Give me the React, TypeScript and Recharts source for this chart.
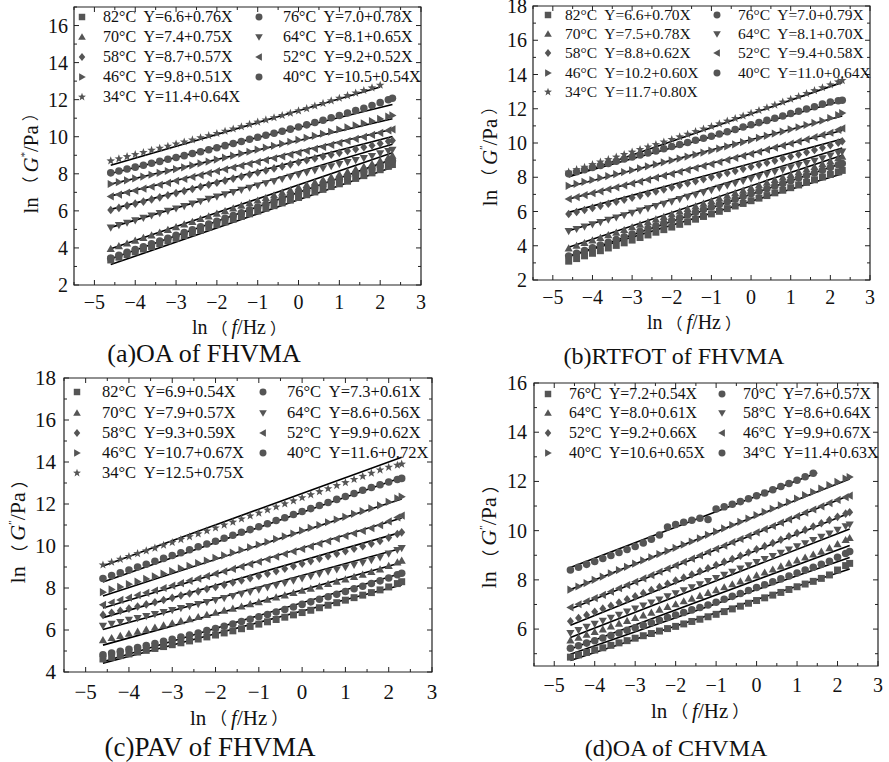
import React from 'react';
import { ScatterChart, Scatter, XAxis, YAxis, ReferenceLine, ReferenceArea } from 'recharts';

const FONT = "'Liberation Serif', 'Times New Roman', serif";
const CJK = "'Noto Sans CJK SC', 'Noto Sans CJK JP', sans-serif";
const MARK = '#555555';

// frequency sweep: ln(f/Hz), 0.01 Hz .. 10 Hz
const lnF = [-4.6, -4.4, -4.2, -4.0, -3.8, -3.6, -3.4, -3.2, -3.0, -2.8, -2.6, -2.4, -2.2, -2.0, -1.8, -1.6, -1.4, -1.2, -1.0, -0.8, -0.6, -0.4, -0.2, 0.0, 0.2, 0.4, 0.6, 0.8, 1.0, 1.2, 1.4, 1.6, 1.8, 2.0, 2.2, 2.3];
const xTicks = [-5.5, -5, -4.5, -4, -3.5, -3, -2.5, -2, -1.5, -1, -0.5, 0, 0.5, 1, 1.5, 2, 2.5, 3];

// ---------- (a) OA of FHVMA ----------
const aTemps = ['82°C', '76°C', '70°C', '64°C', '58°C', '52°C', '46°C', '40°C', '34°C'];
const aEqs = ['Y=6.6+0.76X', 'Y=7.0+0.78X', 'Y=7.4+0.75X', 'Y=8.1+0.65X', 'Y=8.7+0.57X', 'Y=9.2+0.52X', 'Y=9.8+0.51X', 'Y=10.5+0.54X', 'Y=11.4+0.64X'];
const aMarkers = ['square', 'circle', 'triUp', 'triDown', 'diamond', 'triLeft', 'triRight', 'circle', 'star'];
const a82 = [3.35, 3.50, 3.64, 3.79, 3.94, 4.08, 4.23, 4.38, 4.52, 4.67, 4.82, 4.96, 5.11, 5.26, 5.40, 5.55, 5.70, 5.84, 5.99, 6.14, 6.28, 6.43, 6.58, 6.72, 6.87, 7.02, 7.16, 7.31, 7.46, 7.60, 7.75, 7.90, 8.05, 8.22, 8.40, 8.50];
const a76 = [3.45, 3.60, 3.76, 3.91, 4.06, 4.22, 4.37, 4.52, 4.68, 4.83, 4.98, 5.14, 5.29, 5.44, 5.60, 5.75, 5.90, 6.06, 6.21, 6.36, 6.52, 6.67, 6.82, 6.97, 7.11, 7.26, 7.41, 7.55, 7.70, 7.85, 8.00, 8.14, 8.28, 8.44, 8.61, 8.70];
const a70 = [3.95, 4.10, 4.24, 4.39, 4.54, 4.68, 4.83, 4.97, 5.12, 5.27, 5.41, 5.56, 5.70, 5.85, 5.99, 6.13, 6.28, 6.42, 6.56, 6.70, 6.84, 6.98, 7.12, 7.26, 7.40, 7.54, 7.68, 7.82, 7.96, 8.10, 8.24, 8.38, 8.53, 8.70, 8.88, 8.98];
const a64 = [5.10, 5.23, 5.36, 5.49, 5.62, 5.75, 5.88, 6.00, 6.13, 6.26, 6.39, 6.52, 6.65, 6.77, 6.89, 7.01, 7.13, 7.25, 7.37, 7.49, 7.60, 7.72, 7.84, 7.96, 8.08, 8.19, 8.30, 8.41, 8.52, 8.63, 8.74, 8.85, 8.96, 9.10, 9.23, 9.30];
const a58 = [6.05, 6.16, 6.28, 6.39, 6.50, 6.62, 6.73, 6.84, 6.96, 7.07, 7.18, 7.30, 7.41, 7.52, 7.63, 7.74, 7.85, 7.96, 8.07, 8.18, 8.29, 8.40, 8.51, 8.62, 8.73, 8.83, 8.93, 9.03, 9.13, 9.23, 9.33, 9.43, 9.53, 9.64, 9.75, 9.80];
const a52 = [6.78, 6.88, 6.99, 7.09, 7.20, 7.30, 7.41, 7.51, 7.62, 7.72, 7.83, 7.93, 8.04, 8.14, 8.24, 8.34, 8.44, 8.54, 8.64, 8.74, 8.84, 8.94, 9.04, 9.14, 9.24, 9.35, 9.45, 9.56, 9.67, 9.77, 9.88, 9.99, 10.10, 10.21, 10.34, 10.40];
const a46 = [7.45, 7.55, 7.65, 7.75, 7.85, 7.95, 8.05, 8.15, 8.25, 8.35, 8.45, 8.56, 8.66, 8.77, 8.87, 8.98, 9.09, 9.19, 9.30, 9.41, 9.51, 9.62, 9.73, 9.83, 9.94, 10.05, 10.16, 10.27, 10.39, 10.50, 10.61, 10.72, 10.84, 10.96, 11.09, 11.15];
const a40 = [8.05, 8.15, 8.26, 8.36, 8.46, 8.57, 8.67, 8.78, 8.88, 8.98, 9.09, 9.19, 9.30, 9.41, 9.52, 9.63, 9.74, 9.86, 9.97, 10.08, 10.19, 10.30, 10.41, 10.52, 10.64, 10.77, 10.89, 11.02, 11.15, 11.28, 11.41, 11.54, 11.68, 11.84, 12.00, 12.08];
const a34 = [8.70, 8.81, 8.93, 9.04, 9.15, 9.27, 9.38, 9.49, 9.61, 9.72, 9.83, 9.95, 10.06, 10.18, 10.30, 10.42, 10.54, 10.67, 10.79, 10.91, 11.03, 11.15, 11.27, 11.40, 11.52, 11.66, 11.80, 11.94, 12.08, 12.22, 12.36, 12.50, 12.64, 12.78];
const aFitStart = [3.10, 3.41, 3.95, 5.11, 6.08, 6.81, 7.45, 8.02, 8.46];
const aFitEnd = [8.35, 8.79, 9.13, 9.60, 10.01, 10.40, 10.97, 11.74, 12.68];
const aFitEndX = [2.3, 2.3, 2.3, 2.3, 2.3, 2.3, 2.3, 2.3, 2.0];

// ---------- (b) RTFOT of FHVMA ----------
const bTemps = ['82°C', '76°C', '70°C', '64°C', '58°C', '52°C', '46°C', '40°C', '34°C'];
const bEqs = ['Y=6.6+0.70X', 'Y=7.0+0.79X', 'Y=7.5+0.78X', 'Y=8.1+0.70X', 'Y=8.8+0.62X', 'Y=9.4+0.58X', 'Y=10.2+0.60X', 'Y=11.0+0.64X', 'Y=11.7+0.80X'];
const bMarkers = ['square', 'circle', 'triUp', 'triDown', 'diamond', 'triLeft', 'triRight', 'circle', 'star'];
const b82 = [3.10, 3.25, 3.41, 3.56, 3.71, 3.87, 4.02, 4.17, 4.33, 4.48, 4.63, 4.79, 4.94, 5.09, 5.25, 5.40, 5.55, 5.71, 5.86, 6.01, 6.17, 6.32, 6.47, 6.63, 6.78, 6.93, 7.09, 7.24, 7.39, 7.55, 7.70, 7.85, 8.01, 8.16, 8.31, 8.40];
const b76 = [3.40, 3.56, 3.72, 3.88, 4.04, 4.20, 4.36, 4.52, 4.68, 4.84, 5.00, 5.16, 5.32, 5.48, 5.64, 5.80, 5.95, 6.11, 6.26, 6.41, 6.57, 6.72, 6.87, 7.03, 7.18, 7.33, 7.49, 7.64, 7.79, 7.95, 8.10, 8.25, 8.41, 8.57, 8.73, 8.80];
const b70 = [3.85, 4.00, 4.16, 4.31, 4.46, 4.62, 4.77, 4.92, 5.08, 5.23, 5.38, 5.54, 5.69, 5.84, 6.00, 6.15, 6.30, 6.46, 6.61, 6.76, 6.92, 7.07, 7.22, 7.38, 7.53, 7.68, 7.84, 7.99, 8.14, 8.30, 8.45, 8.60, 8.77, 8.93, 9.11, 9.20];
const b64 = [4.85, 4.98, 5.12, 5.25, 5.38, 5.52, 5.65, 5.78, 5.92, 6.05, 6.18, 6.32, 6.45, 6.58, 6.72, 6.85, 6.98, 7.12, 7.25, 7.38, 7.52, 7.65, 7.78, 7.92, 8.05, 8.18, 8.32, 8.45, 8.58, 8.71, 8.83, 8.96, 9.10, 9.26, 9.42, 9.50];
const b58 = [5.85, 5.97, 6.09, 6.21, 6.33, 6.45, 6.57, 6.69, 6.81, 6.93, 7.05, 7.17, 7.29, 7.41, 7.53, 7.65, 7.77, 7.89, 8.01, 8.13, 8.25, 8.37, 8.49, 8.61, 8.73, 8.85, 8.97, 9.09, 9.21, 9.33, 9.46, 9.59, 9.72, 9.87, 10.02, 10.10];
const b52 = [6.73, 6.84, 6.96, 7.07, 7.18, 7.30, 7.41, 7.52, 7.64, 7.75, 7.86, 7.98, 8.09, 8.20, 8.32, 8.43, 8.54, 8.66, 8.77, 8.89, 9.01, 9.13, 9.25, 9.37, 9.49, 9.61, 9.73, 9.85, 9.97, 10.09, 10.21, 10.34, 10.47, 10.60, 10.77, 10.85];
const b46 = [7.50, 7.61, 7.73, 7.84, 7.96, 8.07, 8.18, 8.30, 8.41, 8.52, 8.64, 8.75, 8.87, 8.98, 9.09, 9.21, 9.32, 9.44, 9.55, 9.67, 9.80, 9.92, 10.05, 10.17, 10.30, 10.42, 10.55, 10.67, 10.80, 10.92, 11.05, 11.17, 11.30, 11.46, 11.63, 11.75];
const b40 = [8.20, 8.32, 8.44, 8.57, 8.69, 8.81, 8.93, 9.06, 9.18, 9.30, 9.42, 9.54, 9.67, 9.79, 9.91, 10.03, 10.16, 10.28, 10.40, 10.53, 10.66, 10.79, 10.93, 11.06, 11.19, 11.32, 11.45, 11.58, 11.72, 11.85, 11.98, 12.12, 12.27, 12.40, 12.47, 12.50];
const b34 = [8.30, 8.45, 8.59, 8.74, 8.89, 9.03, 9.18, 9.33, 9.47, 9.62, 9.77, 9.91, 10.06, 10.21, 10.36, 10.51, 10.67, 10.82, 10.97, 11.12, 11.28, 11.43, 11.58, 11.74, 11.90, 12.06, 12.22, 12.39, 12.56, 12.72, 12.89, 13.06, 13.23, 13.40, 13.57, 13.65];
const bFitStart = [3.38, 3.37, 3.91, 4.88, 5.95, 6.73, 7.44, 8.06, 8.02];
const bFitEnd = [8.21, 8.82, 9.29, 9.71, 10.23, 10.73, 11.58, 12.47, 13.54];
const bFitEndX = [2.3, 2.3, 2.3, 2.3, 2.3, 2.3, 2.3, 2.3, 2.3];

// ---------- (c) PAV of FHVMA ----------
const cTemps = ['82°C', '76°C', '70°C', '64°C', '58°C', '52°C', '46°C', '40°C', '34°C'];
const cEqs = ['Y=6.9+0.54X', 'Y=7.3+0.61X', 'Y=7.9+0.57X', 'Y=8.6+0.56X', 'Y=9.3+0.59X', 'Y=9.9+0.62X', 'Y=10.7+0.67X', 'Y=11.6+0.72X', 'Y=12.5+0.75X'];
const cMarkers = ['square', 'circle', 'triUp', 'triDown', 'diamond', 'triLeft', 'triRight', 'circle', 'star'];
const c82 = [4.62, 4.70, 4.78, 4.86, 4.95, 5.03, 5.12, 5.21, 5.30, 5.39, 5.48, 5.57, 5.67, 5.76, 5.86, 5.96, 6.06, 6.17, 6.28, 6.39, 6.50, 6.61, 6.72, 6.83, 6.94, 7.06, 7.18, 7.30, 7.42, 7.54, 7.66, 7.78, 7.91, 8.05, 8.21, 8.30];
const c76 = [4.82, 4.90, 4.99, 5.08, 5.17, 5.26, 5.36, 5.46, 5.56, 5.66, 5.76, 5.86, 5.97, 6.07, 6.18, 6.29, 6.40, 6.51, 6.63, 6.74, 6.86, 6.98, 7.10, 7.22, 7.34, 7.46, 7.58, 7.70, 7.83, 7.96, 8.08, 8.21, 8.34, 8.48, 8.63, 8.70];
const c70 = [5.52, 5.62, 5.72, 5.82, 5.92, 6.02, 6.12, 6.22, 6.32, 6.42, 6.52, 6.62, 6.72, 6.82, 6.92, 7.02, 7.12, 7.23, 7.33, 7.44, 7.55, 7.65, 7.76, 7.87, 7.97, 8.08, 8.19, 8.30, 8.41, 8.53, 8.64, 8.76, 8.89, 9.05, 9.22, 9.30];
const c64 = [6.20, 6.29, 6.38, 6.48, 6.57, 6.66, 6.76, 6.85, 6.95, 7.04, 7.14, 7.23, 7.33, 7.42, 7.52, 7.62, 7.72, 7.82, 7.92, 8.03, 8.13, 8.24, 8.35, 8.46, 8.56, 8.67, 8.78, 8.88, 8.99, 9.10, 9.21, 9.33, 9.46, 9.64, 9.81, 9.90];
const c58 = [6.72, 6.82, 6.92, 7.02, 7.12, 7.22, 7.32, 7.43, 7.53, 7.64, 7.74, 7.84, 7.95, 8.05, 8.15, 8.26, 8.36, 8.47, 8.57, 8.68, 8.80, 8.92, 9.04, 9.16, 9.28, 9.40, 9.51, 9.63, 9.75, 9.87, 9.99, 10.11, 10.24, 10.40, 10.57, 10.65];
const c52 = [7.20, 7.31, 7.43, 7.54, 7.66, 7.77, 7.88, 8.00, 8.11, 8.23, 8.34, 8.45, 8.57, 8.68, 8.79, 8.91, 9.02, 9.14, 9.25, 9.37, 9.49, 9.62, 9.74, 9.86, 9.98, 10.11, 10.23, 10.35, 10.48, 10.60, 10.72, 10.85, 10.99, 11.17, 11.36, 11.45];
const c46 = [7.80, 7.93, 8.05, 8.18, 8.30, 8.43, 8.55, 8.68, 8.80, 8.93, 9.05, 9.18, 9.30, 9.43, 9.55, 9.68, 9.81, 9.93, 10.06, 10.19, 10.33, 10.46, 10.59, 10.73, 10.86, 10.99, 11.13, 11.26, 11.39, 11.53, 11.66, 11.79, 11.93, 12.10, 12.27, 12.35];
const c40 = [8.45, 8.59, 8.72, 8.86, 9.00, 9.13, 9.27, 9.41, 9.55, 9.68, 9.82, 9.96, 10.10, 10.23, 10.37, 10.51, 10.65, 10.78, 10.92, 11.06, 11.21, 11.35, 11.50, 11.64, 11.78, 11.93, 12.07, 12.22, 12.36, 12.50, 12.65, 12.79, 12.92, 13.05, 13.17, 13.22];
const c34 = [9.10, 9.23, 9.37, 9.50, 9.64, 9.77, 9.90, 10.04, 10.17, 10.31, 10.44, 10.58, 10.72, 10.86, 11.00, 11.14, 11.29, 11.43, 11.57, 11.72, 11.86, 12.01, 12.15, 12.30, 12.44, 12.59, 12.73, 12.88, 13.02, 13.17, 13.32, 13.47, 13.62, 13.75, 13.85, 13.90];
const cFitStart = [4.42, 4.49, 5.28, 6.02, 6.59, 7.05, 7.62, 8.29, 9.05];
const cFitEnd = [8.14, 8.70, 9.21, 9.89, 10.66, 11.33, 12.24, 13.26, 14.23];
const cFitEndX = [2.3, 2.3, 2.3, 2.3, 2.3, 2.3, 2.3, 2.3, 2.3];

// ---------- (d) OA of CHVMA ----------
const dTemps = ['76°C', '70°C', '64°C', '58°C', '52°C', '46°C', '40°C', '34°C'];
const dEqs = ['Y=7.2+0.54X', 'Y=7.6+0.57X', 'Y=8.0+0.61X', 'Y=8.6+0.64X', 'Y=9.2+0.66X', 'Y=9.9+0.67X', 'Y=10.6+0.65X', 'Y=11.4+0.63X'];
const dMarkers = ['square', 'circle', 'triUp', 'triDown', 'diamond', 'triLeft', 'triRight', 'circle'];
const d76 = [4.86, 4.95, 5.05, 5.15, 5.24, 5.34, 5.44, 5.53, 5.63, 5.73, 5.82, 5.92, 6.02, 6.11, 6.21, 6.31, 6.40, 6.50, 6.60, 6.71, 6.82, 6.93, 7.05, 7.16, 7.27, 7.38, 7.49, 7.61, 7.72, 7.83, 7.94, 8.06, 8.20, 8.40, 8.58, 8.67];
const d70 = [5.22, 5.32, 5.43, 5.53, 5.64, 5.74, 5.84, 5.95, 6.05, 6.15, 6.26, 6.36, 6.47, 6.57, 6.67, 6.78, 6.88, 6.98, 7.09, 7.21, 7.33, 7.45, 7.57, 7.69, 7.80, 7.92, 8.04, 8.16, 8.28, 8.40, 8.51, 8.63, 8.76, 8.92, 9.07, 9.15];
const d64 = [5.54, 5.65, 5.77, 5.88, 5.99, 6.11, 6.22, 6.33, 6.45, 6.56, 6.67, 6.79, 6.90, 7.01, 7.13, 7.24, 7.35, 7.47, 7.58, 7.70, 7.82, 7.94, 8.06, 8.18, 8.30, 8.42, 8.55, 8.67, 8.79, 8.91, 9.03, 9.15, 9.29, 9.45, 9.62, 9.70];
const d58 = [5.84, 5.96, 6.09, 6.21, 6.34, 6.46, 6.58, 6.71, 6.83, 6.96, 7.08, 7.20, 7.33, 7.45, 7.58, 7.70, 7.82, 7.95, 8.07, 8.20, 8.33, 8.46, 8.59, 8.72, 8.84, 8.97, 9.10, 9.23, 9.36, 9.49, 9.62, 9.75, 9.88, 10.03, 10.18, 10.25];
const d52 = [6.32, 6.45, 6.57, 6.70, 6.83, 6.95, 7.08, 7.21, 7.33, 7.46, 7.59, 7.71, 7.84, 7.97, 8.09, 8.22, 8.35, 8.47, 8.60, 8.73, 8.85, 8.98, 9.11, 9.24, 9.37, 9.50, 9.63, 9.77, 9.90, 10.03, 10.17, 10.30, 10.43, 10.56, 10.69, 10.75];
const d46 = [6.88, 7.01, 7.13, 7.26, 7.39, 7.52, 7.66, 7.79, 7.92, 8.06, 8.19, 8.33, 8.46, 8.59, 8.73, 8.86, 8.99, 9.13, 9.26, 9.39, 9.53, 9.66, 9.79, 9.93, 10.06, 10.19, 10.33, 10.46, 10.59, 10.73, 10.86, 10.99, 11.12, 11.25, 11.36, 11.42];
const d40 = [7.60, 7.73, 7.87, 8.00, 8.13, 8.27, 8.40, 8.53, 8.66, 8.79, 8.92, 9.05, 9.17, 9.30, 9.43, 9.56, 9.69, 9.83, 9.96, 10.09, 10.23, 10.36, 10.49, 10.63, 10.76, 10.89, 11.03, 11.16, 11.30, 11.44, 11.57, 11.71, 11.85, 11.98, 12.12, 12.18];
const d34 = [8.40, 8.51, 8.63, 8.75, 8.87, 8.99, 9.11, 9.23, 9.36, 9.50, 9.65, 9.82, 10.15, 10.25, 10.34, 10.42, 10.50, 10.45, 10.88, 10.97, 11.07, 11.18, 11.30, 11.42, 11.53, 11.66, 11.79, 11.92, 12.05, 12.19, 12.33];
const dFitStart = [4.72, 4.98, 5.19, 5.66, 6.16, 6.82, 7.61, 8.50];
const dFitEnd = [8.44, 8.91, 9.40, 10.07, 10.72, 11.44, 12.10, 12.35];
const dFitEndX = [2.3, 2.3, 2.3, 2.3, 2.3, 2.3, 2.3, 1.5];

const toPts = (ys: number[]) => ys.map((y, i) => ({ x: lnF[i], y }));

function Mk({ type, cx, cy, s = 4.1, fill = MARK }: any) {
  if (cx == null || cy == null) return <g />;
  switch (type) {
    case 'square':
      return <rect x={cx - s * 0.85} y={cy - s * 0.85} width={s * 1.7} height={s * 1.7} fill={fill} />;
    case 'circle':
      return <circle cx={cx} cy={cy} r={s * 0.92} fill={fill} />;
    case 'triUp':
      return <polygon points={`${cx},${cy - s} ${cx + s},${cy + s * 0.75} ${cx - s},${cy + s * 0.75}`} fill={fill} />;
    case 'triDown':
      return <polygon points={`${cx},${cy + s} ${cx + s},${cy - s * 0.75} ${cx - s},${cy - s * 0.75}`} fill={fill} />;
    case 'triLeft':
      return <polygon points={`${cx - s},${cy} ${cx + s * 0.75},${cy - s} ${cx + s * 0.75},${cy + s}`} fill={fill} />;
    case 'triRight':
      return <polygon points={`${cx + s},${cy} ${cx - s * 0.75},${cy - s} ${cx - s * 0.75},${cy + s}`} fill={fill} />;
    case 'diamond':
      return <polygon points={`${cx},${cy - s * 1.05} ${cx + s * 0.85},${cy} ${cx},${cy + s * 1.05} ${cx - s * 0.85},${cy}`} fill={fill} />;
    case 'star': {
      const pts: string[] = [];
      for (let k = 0; k < 10; k++) {
        const r = k % 2 === 0 ? s * 1.1 : s * 0.45;
        const a = -Math.PI / 2 + (k * Math.PI) / 5;
        pts.push(`${cx + r * Math.cos(a)},${cy + r * Math.sin(a)}`);
      }
      return <polygon points={pts.join(' ')} fill={fill} />;
    }
    default:
      return <circle cx={cx} cy={cy} r={s} fill={fill} />;
  }
}

const fmt = (v: number) => (v < 0 ? '\u2212' + Math.abs(v) : String(v));

const YW = 60;
const XH = 44;
const MT = 14;
const MR = 14;

function Panel({ cfg }: any) {
  const { L, T, W, H, xDomain, yDomain, yTicks, tickFont, xLabOff, yLabOff, series } = cfg;
  const pTop = MT;
  const pBot = MT + H;
  const pLeft = YW;
  const pRight = YW + W;
  const XTick = (p: any) => {
    const v = p.payload.value;
    const x = p.payload.coordinate ?? p.x;
    const major = Number.isInteger(v);
    const len = major ? 5 : 3;
    return (
      <g>
        <line x1={x} x2={x} y1={pBot} y2={pBot - len} stroke="#222" strokeWidth={1} />
        <line x1={x} x2={x} y1={pTop} y2={pTop + len} stroke="#222" strokeWidth={1} />
        {major && (
          <text x={x} y={pBot + xLabOff} textAnchor="middle" dominantBaseline="central" fontFamily={FONT} fontSize={tickFont} fill="#111">
            {fmt(v)}
          </text>
        )}
      </g>
    );
  };
  const YTick = (p: any) => {
    const v = p.payload.value;
    const y = p.payload.coordinate ?? p.y;
    const major = v % 2 === 0;
    const len = major ? 5 : 3;
    return (
      <g>
        <line x1={pLeft} x2={pLeft + len} y1={y} y2={y} stroke="#222" strokeWidth={1} />
        <line x1={pRight} x2={pRight - len} y1={y} y2={y} stroke="#222" strokeWidth={1} />
        {major && (
          <text x={pLeft - yLabOff} y={y} textAnchor="end" dominantBaseline="central" fontFamily={FONT} fontSize={tickFont} fill="#111">
            {fmt(v)}
          </text>
        )}
      </g>
    );
  };
  return (
    <div style={{ position: 'absolute', left: L - YW, top: T - MT }}>
      <ScatterChart width={YW + W + MR} height={MT + H + XH} margin={{ top: MT, right: MR, bottom: 0, left: 0 }}>
        <XAxis type="number" dataKey="x" domain={xDomain} ticks={xTicks} interval={0} allowDataOverflow axisLine={false} tickLine={false} tick={XTick} height={XH} />
        <YAxis type="number" dataKey="y" domain={yDomain} ticks={yTicks} interval={0} allowDataOverflow axisLine={false} tickLine={false} tick={YTick} width={YW} />
        {series.map((s: any, i: number) => (
          <Scatter key={'s' + i} data={s.data} isAnimationActive={false} shape={(p: any) => <Mk type={s.marker} cx={p.cx} cy={p.cy} />} />
        ))}
        {series.map((s: any, i: number) => (
          <ReferenceLine key={'f' + i} segment={s.fit} stroke="#000" strokeWidth={1.6} ifOverflow="visible" />
        ))}
        <ReferenceArea x1={xDomain[0]} x2={xDomain[1]} y1={yDomain[0]} y2={yDomain[1]} fill="none" stroke="#222" strokeWidth={1.2} ifOverflow="visible" />
      </ScatterChart>
    </div>
  );
}

function Legend({ cfg }: any) {
  const { legend, series } = cfg;
  return (
    <>
      {series.map((s: any, i: number) => {
        const col = i % 2;
        const row = Math.floor(i / 2);
        const y = legend.rows[row];
        return (
          <React.Fragment key={i}>
            <svg style={{ position: 'absolute', left: legend.mx[col] - 7, top: y - 7 }} width={14} height={14}>
              <Mk type={s.marker} cx={7} cy={7} s={3.8} />
            </svg>
            <div style={{ position: 'absolute', left: legend.tx[col], top: y, transform: 'translateY(-50%)', fontFamily: FONT, fontSize: legend.font, whiteSpace: 'pre', lineHeight: 1, color: '#111' }}>
              {s.temp + '  ' + s.eq}
            </div>
          </React.Fragment>
        );
      })}
    </>
  );
}

function Titles({ cfg }: any) {
  const { yTitle, xTitle, caption } = cfg;
  const base: any = { position: 'absolute', fontFamily: FONT, whiteSpace: 'nowrap', lineHeight: 1, color: '#111' };
  const paren = { fontFamily: CJK, fontSize: '0.8em', margin: '0 4px' };
  return (
    <>
      <div style={{ ...base, left: yTitle.x, top: yTitle.y, fontSize: yTitle.font, transform: 'translate(-50%,-50%) rotate(-90deg)' }}>
        ln<span style={paren}>（</span><i>G</i>
        <sup style={{ fontSize: '0.5em', verticalAlign: '0.9em' }}>{yTitle.sup}</sup>/Pa<span style={paren}>）</span>
      </div>
      <div style={{ ...base, left: xTitle.x, top: xTitle.y, fontSize: xTitle.font, transform: 'translate(-50%,-50%)' }}>
        ln<span style={paren}>（</span><i>f</i>/Hz<span style={paren}>）</span>
      </div>
      <div style={{ ...base, left: caption.x, top: caption.y, fontSize: caption.font, transform: 'translate(-50%,-50%)' }}>{caption.text}</div>
    </>
  );
}

const mkSeries = (temps: string[], eqs: string[], markers: string[], data: number[][], fs: number[], fe: number[], fx: number[]) =>
  temps.map((t, i) => ({
    temp: t,
    eq: eqs[i],
    marker: markers[i],
    data: toPts(data[i]),
    fit: [{ x: -4.6, y: fs[i] }, { x: fx[i], y: fe[i] }],
  }));

const panels = [
  {
    L: 74, T: 7, W: 347, H: 278,
    xDomain: [-5.5, 3], yDomain: [2, 17],
    yTicks: [2, 3, 4, 5, 6, 7, 8, 9, 10, 11, 12, 13, 14, 15, 16, 17],
    tickFont: 20, xLabOff: 17, yLabOff: 6,
    series: mkSeries(aTemps, aEqs, aMarkers, [a82, a76, a70, a64, a58, a52, a46, a40, a34], aFitStart, aFitEnd, aFitEndX),
    legend: { mx: [82, 259], tx: [103, 283], rows: [17, 37, 57, 77, 97], font: 16 },
    yTitle: { x: 31, y: 157, font: 21, sup: '*' },
    xTitle: { x: 241, y: 327, font: 20 },
    caption: { x: 204, y: 354, font: 26, text: '(a)OA of FHVMA' },
  },
  {
    L: 533, T: 6, W: 337, H: 274,
    xDomain: [-5.5, 3], yDomain: [2, 18],
    yTicks: [2, 3, 4, 5, 6, 7, 8, 9, 10, 11, 12, 13, 14, 15, 16, 17, 18],
    tickFont: 20, xLabOff: 17, yLabOff: 6,
    series: mkSeries(bTemps, bEqs, bMarkers, [b82, b76, b70, b64, b58, b52, b46, b40, b34], bFitStart, bFitEnd, bFitEndX),
    legend: { mx: [548, 717], tx: [565, 738], rows: [15, 34, 53, 73, 92], font: 15.5 },
    yTitle: { x: 490, y: 150, font: 21, sup: '″' },
    xTitle: { x: 696, y: 322, font: 20 },
    caption: { x: 674, y: 356, font: 24, text: '(b)RTFOT of FHVMA' },
  },
  {
    L: 64, T: 378, W: 368, H: 294,
    xDomain: [-5.5, 3], yDomain: [4, 18],
    yTicks: [4, 5, 6, 7, 8, 9, 10, 11, 12, 13, 14, 15, 16, 17, 18],
    tickFont: 21, xLabOff: 20, yLabOff: 8,
    series: mkSeries(cTemps, cEqs, cMarkers, [c82, c76, c70, c64, c58, c52, c46, c40, c34], cFitStart, cFitEnd, cFitEndX),
    legend: { mx: [77, 263], tx: [102, 287], rows: [392, 413, 433, 453, 473], font: 16.5 },
    yTitle: { x: 18, y: 525, font: 22, sup: '″' },
    xTitle: { x: 241, y: 718, font: 21 },
    caption: { x: 210, y: 747, font: 27, text: '(c)PAV of FHVMA' },
  },
  {
    L: 534, T: 383, W: 344, H: 283,
    xDomain: [-5.5, 3], yDomain: [4.5, 16],
    yTicks: [5, 6, 7, 8, 9, 10, 11, 12, 13, 14, 15, 16],
    tickFont: 20, xLabOff: 19, yLabOff: 7,
    series: mkSeries(dTemps, dEqs, dMarkers, [d76, d70, d64, d58, d52, d46, d40, d34], dFitStart, dFitEnd, dFitEndX),
    legend: { mx: [548, 722], tx: [569, 743], rows: [394, 413, 433, 453], font: 15.8 },
    yTitle: { x: 489, y: 530, font: 22, sup: '″' },
    xTitle: { x: 702, y: 711, font: 21 },
    caption: { x: 676, y: 748, font: 24, text: '(d)OA of CHVMA' },
  },
];

export default function App() {
  return (
    <div style={{ position: 'absolute', left: 0, top: 0, width: 889, height: 762, background: '#fff', overflow: 'hidden' }}>
      {panels.map((p, i) => (
        <React.Fragment key={i}>
          <Panel cfg={p} />
          <Legend cfg={p} />
          <Titles cfg={p} />
        </React.Fragment>
      ))}
    </div>
  );
}
